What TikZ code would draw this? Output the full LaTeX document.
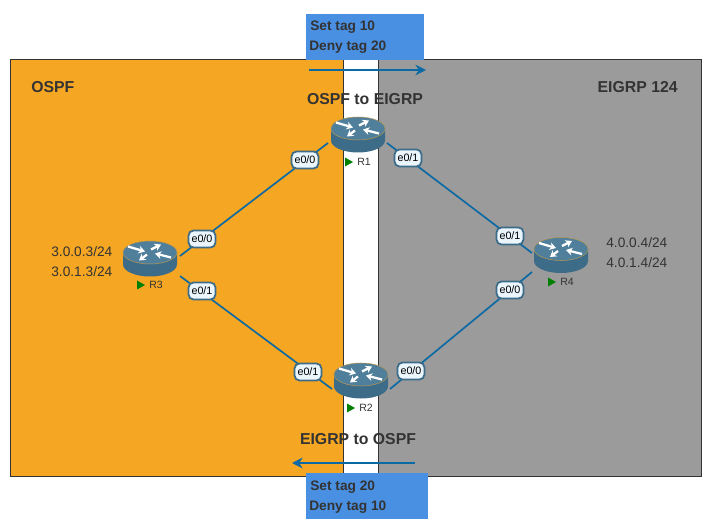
\documentclass[tikz,border=0pt]{standalone}
\usepackage{fontspec}
\setmainfont{Liberation Sans}
\usetikzlibrary{arrows.meta}
\definecolor{areaorange}{HTML}{F5A623}
\definecolor{areagray}{HTML}{9B9B9B}
\definecolor{tagblue}{HTML}{4A90E2}
\definecolor{linkblue}{HTML}{0B69A3}
\definecolor{darktext}{HTML}{333333}
\definecolor{routertop}{HTML}{4F7F9B}
\definecolor{routerside}{HTML}{3D6C89}
\definecolor{portfill}{HTML}{EAF5FC}
\tikzset{
    link/.style = {draw = linkblue, line width = 0.95pt},
    flow/.style = {draw = linkblue, line width = 0.95pt, -{Stealth[length = 6pt, width = 6pt]}},
    port/.style = {draw = routerside, line width = 1pt, fill = portfill, rounded corners = 3pt,
        font = \fontsize{6.1}{7}\selectfont, text = black, inner sep = 0pt, minimum width = 15.4pt, minimum height = 9.8pt},
    tagtext/.style = {font = \bfseries\fontsize{7.8}{9}\selectfont, text = darktext, anchor = west, inner sep = 0pt},
    areatext/.style = {font = \bfseries\fontsize{9}{11}\selectfont, text = darktext, inner sep = 0pt},
    addr/.style = {font = \fontsize{7.8}{9}\selectfont, text = darktext, anchor = west, inner sep = 0pt},
    hostname/.style = {font = \fontsize{6}{7}\selectfont, text = darktext, anchor = west, inner sep = 0pt},
    routerarrow/.style = {draw = white, line width = 1.3pt, -{Stealth[length = 3.6pt, width = 4.4pt]}}
}
% router icon: name, centre x, centre y
\newcommand{\routericon}[3]{
    \begin{scope}[shift = {(#2,#3)}]
        \fill[routerside] (-27,-6) -- (-27,6) arc[start angle = 180, end angle = 0, x radius = 27, y radius = 12] -- (27,-6) -- cycle;
        \draw[fill = routertop, draw = areaorange!60!routertop, line width = 0.3pt] (0,-6) ellipse[x radius = 27, y radius = 11.5];
        \draw[routerarrow] (-22,-12) -- (-5,-7);
        \draw[routerarrow] (21,-1) -- (5,-5);
        \draw[routerarrow] (1,-9) -- (11,-14);
        \draw[routerarrow] (-3,-4) -- (-11,2);
        \node[minimum width = 30.7pt, minimum height = 20.5pt, inner sep = 0pt] (#1) at (0,0) {};
    \end{scope}
}
% green marker with router name
\newcommand{\routername}[3]{
    \fill[green!50!black] (#2-5,#3-4.5) -- (#2+3,#3) -- (#2-5,#3+4.5) -- cycle;
    \node[hostname] (#1name) at (#2+7,#3) {#1};
}
\begin{document}
\begin{tikzpicture}[x = 0.02cm, y = -0.02cm]
    \useasboundingbox (0,0) rectangle (717,520);
    % areas
    \fill[areaorange] (10,59) rectangle (343,477);
    \fill[areagray] (378,59) rectangle (701,476);
    \draw[darktext, line width = 0.5pt] (10,59) rectangle (701,476);
    \draw[darktext, line width = 0.5pt] (343,59) -- (343,476);
    \draw[darktext, line width = 0.5pt] (378,59) -- (378,476);
    % tag boxes
    \fill[tagblue] (306,14) rectangle (424,60);
    \fill[tagblue] (306,473) rectangle (428,519);
    \node[tagtext] (settop) at (310,27.5) {Set tag 10};
    \node[tagtext] (denytop) at (309,47.5) {Deny tag 20};
    \node[tagtext] (setbottom) at (310,487) {Set tag 20};
    \node[tagtext] (denybottom) at (309,507) {Deny tag 10};
    % redistribution arrows
    \coordinate (flowAstart) at (309,70);
    \coordinate (flowAend) at (426,70);
    \coordinate (flowBstart) at (415,463);
    \coordinate (flowBend) at (292,463);
    \draw[flow] (flowAstart) -- (flowAend);
    \draw[flow] (flowBstart) -- (flowBend);
    % routers
    \routericon{R1}{358}{134.5}
    \routericon{R2}{361}{380.5}
    \routericon{R3}{150}{258.5}
    \routericon{R4}{561}{255}
    \routername{R1}{350}{162}
    \routername{R2}{352}{408}
    \routername{R3}{142}{285}
    \routername{R4}{553}{282}
    % link ends
    \coordinate (R1w) at (328,143);
    \coordinate (R1e) at (387,143);
    \coordinate (R2w) at (332,389);
    \coordinate (R2e) at (390,389);
    \coordinate (R3n) at (180,256);
    \coordinate (R3s) at (180,276);
    \coordinate (R4n) at (532,253);
    \coordinate (R4s) at (532,272);
    \draw[link] (R1w) -- (R3n);
    \draw[link] (R3s) -- (R2w);
    \draw[link] (R1e) -- (R4n);
    \draw[link] (R4s) -- (R2e);
    % ports
    \node[port] (R1p0) at (305,160) {e0/0};
    \node[port] (R1p1) at (408,158) {e0/1};
    \node[port] (R3p0) at (202,239) {e0/0};
    \node[port] (R3p1) at (202,291) {e0/1};
    \node[port] (R4p1) at (510,236) {e0/1};
    \node[port] (R4p0) at (510,290) {e0/0};
    \node[port] (R2p1) at (308,372) {e0/1};
    \node[port] (R2p0) at (411,371) {e0/0};
    % texts
    \node[areatext, anchor = west] (ospf) at (31,87.5) {OSPF};
    \node[areatext, anchor = east] (eigrp) at (678,87.5) {EIGRP 124};
    \node[areatext] (ospftoeigrp) at (365,99.5) {OSPF to EIGRP};
    \node[areatext] (eigrptoospf) at (358,439.5) {EIGRP to OSPF};
    \node[addr] (R3a) at (51,252) {3.0.0.3/24};
    \node[addr] (R3b) at (51,272) {3.0.1.3/24};
    \node[addr] (R4a) at (606,243) {4.0.0.4/24};
    \node[addr] (R4b) at (606,263) {4.0.1.4/24};
\end{tikzpicture}
\end{document}
